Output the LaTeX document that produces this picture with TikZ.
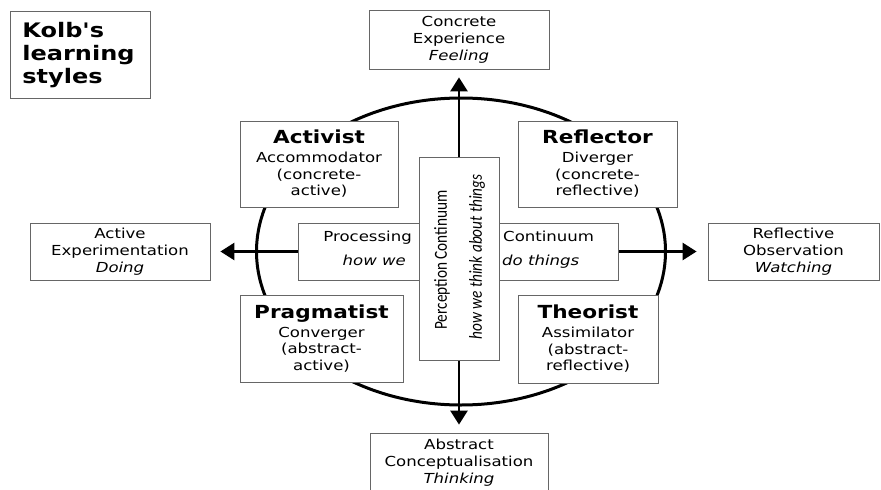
\documentclass[tikz,border=0pt]{standalone}
\usepackage{fontspec}
\usepackage{graphicx}
\setmainfont{DejaVu Sans}[FakeStretch=1.2]
\newfontfamily\titlefont{DejaVu Sans}[FakeStretch=1.2]
\newfontfamily\percfont{Carlito}
\usetikzlibrary{arrows.meta}
\newcommand\stylehead[1]{{\bfseries\fontsize{18}{18}\selectfont #1}}

\begin{document}
\begin{tikzpicture}[x=1pt,y=-1pt]
	\tikzstyle{plain box}=[draw=black!60,line width=0.8pt,fill=white,inner sep=0pt,align=center,font=\fontsize{13.8}{17}\selectfont]
	\tikzstyle{style box}=[plain box,font=\fontsize{13.8}{16.5}\selectfont]
	\tikzstyle{band text}=[inner sep=0pt,font=\fontsize{13.8}{17}\selectfont]
	\tikzstyle{big arrow}=[line width=2.6pt,{Triangle[length=14pt,width=17pt]}-{Triangle[length=14pt,width=17pt]}]
	\useasboundingbox (0,0) rectangle (881,490);
	% title
	\node(title)[plain box,anchor=north west,minimum width=140pt,minimum height=87pt,align=left,text width=116pt,inner xsep=12pt,font=\titlefont\bfseries\fontsize{20}{23}\selectfont] at (10,11) {Kolb's\\learning\\styles};
	% circle
	\draw[line width=3pt] (461,251.5) ellipse [x radius=204.5pt,y radius=153.5pt];
	% outer boxes
	\node(ce)[plain box,minimum width=180pt,minimum height=59pt] at (459,40) {Concrete\\Experience\\\textit{Feeling}};
	\node(ac)[plain box,minimum width=178pt,minimum height=60pt] at (459,463) {Abstract\\Conceptualisation\\\textit{Thinking}};
	\node(ae)[plain box,minimum width=180pt,minimum height=57pt] at (120,251.5) {Active\\Experimentation\\\textit{Doing}};
	\node(ro)[plain box,minimum width=171pt,minimum height=57pt] at (793.5,251.5) {Reflective\\Observation\\\textit{Watching}};
	% axes
	\draw[big arrow,shorten <=7.5pt,shorten >=8pt](ce.south)--(ac.north);
	\draw[big arrow,shorten <=10pt,shorten >=11pt](ae.east)--(ro.west);
	% four styles
	\node(activist)[style box,minimum width=158pt,minimum height=86pt] at (319,164) {\stylehead{Activist}\\[2.5pt]Accommodator\\(concrete-\\active)};
	\node(reflector)[style box,minimum width=159pt,minimum height=86pt] at (597.5,164) {\stylehead{Reflector}\\[2.5pt]Diverger\\(concrete-\\reflective)};
	\node(pragmatist)[style box,minimum width=163pt,minimum height=87pt] at (321.5,338.5) {\stylehead{Pragmatist}\\[2.5pt]Converger\\(abstract-\\active)};
	\node(theorist)[style box,minimum width=140pt,minimum height=88pt] at (588,339) {\stylehead{Theorist}\\[2.5pt]Assimilator\\(abstract-\\reflective)};
	% continua
	\node(band)[plain box,minimum width=320pt,minimum height=57pt] at (458,251.5) {};
	\node(perc)[plain box,minimum width=80pt,minimum height=203pt] at (459,258.5) {};
	\node(processing)[band text,anchor=base east] at (412,241) {Processing};
	\node(howwe)[band text,anchor=base east,font=\itshape\fontsize{13.8}{17}\selectfont] at (406,265) {how we};
	\node(continuum)[band text,anchor=base west] at (503,241) {Continuum};
	\node(dothings)[band text,anchor=base west,font=\itshape\fontsize{13.8}{17}\selectfont] at (502,265) {do things};
	\node(perception)[inner sep=0pt,rotate=90,font=\percfont\fontsize{15.3}{17}\selectfont] at (442,260) {\scalebox{1}[1.2]{Perception Continuum}};
	\node(thinking)[inner sep=0pt,rotate=90,font=\percfont\itshape\fontsize{15.3}{17}\selectfont] at (477,257) {\scalebox{1}[1.2]{how we think about things}};
\end{tikzpicture}
\end{document}
